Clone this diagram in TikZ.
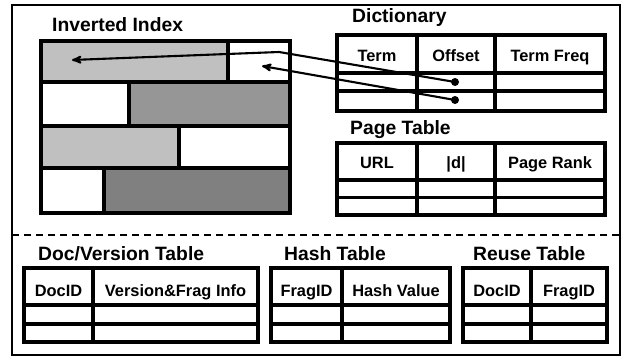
\documentclass[tikz,border=0pt]{standalone}
\usepackage{fontspec}
\setmainfont{Liberation Sans}
\usepackage{tikz}
\usetikzlibrary{arrows}
\usetikzlibrary{positioning}
\definecolor{lightblk}{HTML}{C0C0C0}
\definecolor{midblk}{HTML}{969696}
\definecolor{darkblk}{HTML}{808080}

\begin{document}
\begin{tikzpicture}[x=1pt,y=-1pt,>=stealth',
		tbl/.style={draw=black,line width=3.4pt},
		blk/.style={draw=black,line width=3.6pt},
		title/.style={anchor=base west,inner sep=0pt,font=\fontsize{19.3}{21}\selectfont\bfseries},
		head/.style={anchor=base,inner sep=0pt,font=\fontsize{16.4}{18}\selectfont\bfseries},
		ptr/.style={->,line width=2.1pt},
		dot/.style={circle,fill=black,inner sep=0pt,minimum size=8pt}]
		\useasboundingbox (0,0) rectangle (623,358);
		\draw[line width=1.5pt] (12,5) rectangle (620,355);
		\draw[line width=1.3pt,dash pattern=on 7pt off 5pt] (12,235) -- (620,235);
		
		% inverted index
		\node[title] (invtitle) at (52,32) {Inverted Index};
		\fill[lightblk] (41,41) rectangle (228,82);
		\fill[midblk]   (129,82) rectangle (290,126);
		\fill[lightblk] (41,126) rectangle (179,168);
		\fill[darkblk]  (104,168) rectangle (290,213);
		\draw[blk] (41,41) rectangle (290,213);
		\draw[blk] (41,82) -- (290,82) (41,126) -- (290,126) (41,168) -- (290,168);
		\draw[blk] (228,41) -- (228,82) (129,82) -- (129,126) (179,126) -- (179,168) (104,168) -- (104,213);
		\coordinate (tip1) at (72,60);
		\coordinate (tip2) at (262,66);
		\coordinate (bend) at (279,52);
		
		% dictionary
		\node[title] (dicttitle) at (352,23) {Dictionary};
		\draw[tbl] (337,35) rectangle (605,111);
		\draw[tbl] (337,73) -- (605,73) (337,91) -- (605,91) (417,35) -- (417,111) (495,35) -- (495,111);
		\node[head] (term)   at (377,62) {Term};
		\node[head] (offset) at (456,62) {Offset};
		\node[head] (tfreq)  at (550,62) {Term Freq};
		\node[dot] (off1) at (455,82) {};
		\node[dot] (off2) at (455,100) {};
		
		% page table
		\node[title] (pagetitle) at (350,135) {Page Table};
		\draw[tbl] (337,143) rectangle (605,215);
		\draw[tbl] (337,180) -- (605,180) (337,197.5) -- (605,197.5) (417,143) -- (417,215) (495,143) -- (495,215);
		\node[head] (url)   at (377,168) {URL};
		\node[head] (dlen)  at (456,168) {|d|};
		\node[head] (prank) at (550,168) {Page Rank};
		
		% doc/version table
		\node[title] (doctitle) at (38,260) {Doc/Version Table};
		\draw[tbl] (24,268) rectangle (258,342);
		\draw[tbl] (24,305) -- (258,305) (24,324) -- (258,324) (93,268) -- (93,342);
		\node[head] (docid)   at (58.5,296) {DocID};
		\node[head] (verinfo) at (175.5,296) {Version\&Frag Info};
		
		% hash table
		\node[title] (hashtitle) at (284,260) {Hash Table};
		\draw[tbl] (271,268) rectangle (450,342);
		\draw[tbl] (271,305) -- (450,305) (271,324) -- (450,324) (342,268) -- (342,342);
		\node[head] (hfrag) at (306.5,296) {FragID};
		\node[head] (hval)  at (396,296) {Hash Value};
		
		% reuse table
		\node[title] (reusetitle) at (473,260) {Reuse Table};
		\draw[tbl] (463,268) rectangle (607,342);
		\draw[tbl] (463,305) -- (607,305) (463,324) -- (607,324) (531,268) -- (531,342);
		\node[head] (rdoc)  at (497,296) {DocID};
		\node[head] (rfrag) at (569,296) {FragID};
		
		% pointers
		\draw[ptr] (off1.center) -- (bend) -- (tip1);
		\draw[ptr] (off2.center) -- (tip2);
\end{tikzpicture}
\end{document}
